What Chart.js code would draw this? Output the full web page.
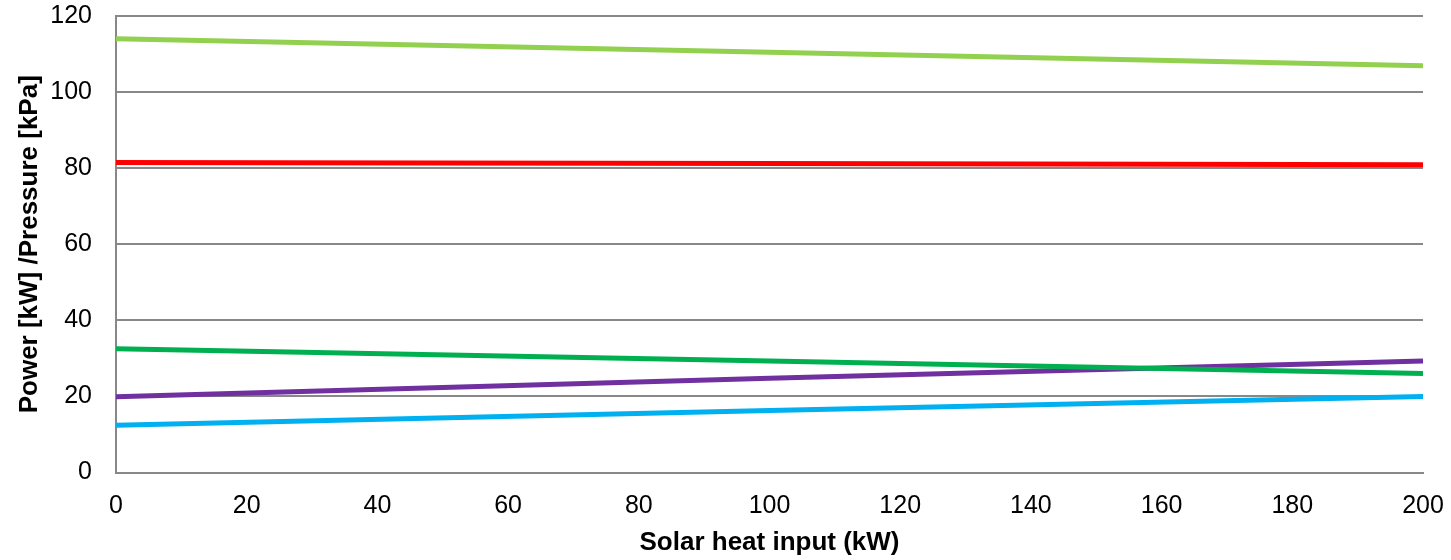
<!DOCTYPE html>
<html>
<head>
<meta charset="utf-8">
<script src="https://cdn.jsdelivr.net/npm/chart.js@4/dist/chart.umd.min.js"></script>
<style>
html,body{margin:0;padding:0;background:#fff;}
#wrap{width:1451px;height:560px;position:relative;}
</style>
</head>
<body>
<div id="wrap"><canvas id="c" width="1451" height="560"></canvas></div>
<script>
const solarHeat = [0, 100, 200];
const seriesLightGreen = [114.0, 110.5, 106.9];
const seriesRed = [81.5, 81.2, 80.9];
const seriesGreen = [32.5, 29.3, 26.0];
const seriesPurple = [19.9, 24.8, 29.3];
const seriesBlue = [12.4, 16.3, 20.0];
const xTicks = [0, 20, 40, 60, 80, 100, 120, 140, 160, 180, 200];
const yTicks = [0, 20, 40, 60, 80, 100, 120];

const seriesList = [
  {data: seriesLightGreen, color: '#92D050'},
  {data: seriesRed, color: '#FF0000'},
  {data: seriesGreen, color: '#00B050'},
  {data: seriesPurple, color: '#7030A0'},
  {data: seriesBlue, color: '#00B0F0'}
];

const font = "'Liberation Sans', Arial, sans-serif";
new Chart(document.getElementById('c'), {
  type: 'line',
  data: {
    datasets: seriesList.map(s => ({
      data: solarHeat.map((x, i) => ({x: x, y: s.data[i]})),
      borderColor: s.color,
      backgroundColor: s.color,
      borderWidth: 5,
      pointRadius: 0,
      tension: 0,
      fill: false
    }))
  },
  options: {
    responsive: false,
    animation: false,
    plugins: {legend: {display: false}, tooltip: {enabled: false}},
    layout: {padding: {top: 16, right: 28, bottom: 2, left: 14}},
    scales: {
      x: {
        type: 'linear', min: 0, max: 200,
        afterBuildTicks: a => { a.ticks = xTicks.map(v => ({value: v})); },
        afterFit: s => { s.height = 85.5; s.paddingTop = 0; s.paddingLeft = 0; s.paddingRight = 0; },
        grid: {display: false, drawTicks: false},
        border: {display: true, color: '#888888', width: 2},
        ticks: {color: '#000', font: {family: font, size: 25}, padding: 19, maxRotation: 0},
        title: {display: true, text: 'Solar heat input (kW)', color: '#000', font: {family: font, size: 26, weight: 'bold'}, padding: {top: 0, bottom: 0}}
      },
      y: {
        min: 0, max: 120,
        afterBuildTicks: a => { a.ticks = yTicks.map(v => ({value: v})); },
        afterFit: s => { s.width = 102; s.paddingTop = 0; s.paddingBottom = 0; },
        grid: {color: '#888888', lineWidth: 2, drawTicks: false},
        border: {display: true, color: '#888888', width: 2},
        ticks: {color: '#000', font: {family: font, size: 25}, padding: 24},
        title: {display: true, text: 'Power [kW] /Pressure [kPa]', color: '#000', font: {family: font, size: 26, weight: 'bold'}, padding: {top: 0, bottom: 0}}
      }
    }
  }
});
</script>
</body>
</html>
